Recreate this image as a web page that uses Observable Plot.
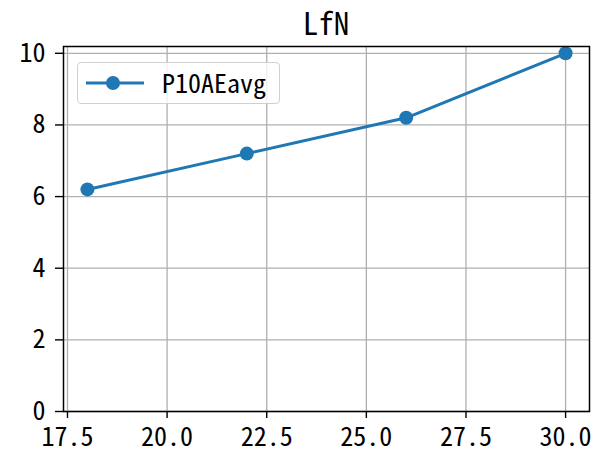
<!DOCTYPE html>
<html><head><meta charset="utf-8">
<script src="https://cdn.jsdelivr.net/npm/d3@7"></script>
<script src="https://cdn.jsdelivr.net/npm/@observablehq/plot@0.6"></script>
<style>
body{margin:0;background:#fff;}
#wrap{position:relative;width:607px;height:456px;font-family:"Noto Sans Mono CJK SC","Noto Sans CJK SC",monospace;}
#title{position:absolute;left:63px;width:526px;top:4px;height:36px;line-height:36px;text-align:center;font-size:31px;color:#000;}
#legend{position:absolute;left:77px;top:62px;width:201px;height:40px;border:1.3px solid #d0d0d0;border-radius:4px;background:rgba(255,255,255,0.8);}
#legend svg{position:absolute;left:0;top:0;}
#legend span{position:absolute;left:84px;top:50%;transform:translateY(-52%);font-size:26px;color:#000;line-height:1;}
</style></head><body><div id="wrap"></div>
<script>
const title = "LfN";
const seriesName = "P10AEavg";
const xs = [18, 22, 26, 30];
const ys = [6.2, 7.2, 8.2, 10];
const xTicks = [17.5, 20, 22.5, 25, 27.5, 30];
const yTicks = [0, 2, 4, 6, 8, 10];
const color = "#1f77b4";
const data = xs.map((x, i) => ({x, y: ys[i]}));

const font = '"Noto Sans Mono CJK SC","Noto Sans CJK SC",monospace';
const plot = Plot.plot({
  width: 607, height: 456,
  marginLeft: 63, marginRight: 18, marginTop: 46, marginBottom: 45,
  style: {fontFamily: font, fontSize: "26px", color: "#000", background: "#fff", overflow: "visible"},
  x: {domain: [17.4, 30.6]},
  y: {domain: [0, 10.19]},
  marks: [
    Plot.gridX(xTicks, {stroke: "#b0b0b0", strokeOpacity: 1, strokeWidth: 1.3}),
    Plot.gridY(yTicks, {stroke: "#b0b0b0", strokeOpacity: 1, strokeWidth: 1.3}),
    Plot.axisX({ticks: xTicks, tickFormat: d3.format(".1f"), tickSize: 7, tickPadding: 9, label: null, stroke: "#000", strokeWidth: 1.4}),
    Plot.axisY({ticks: yTicks, tickFormat: d3.format("d"), tickSize: 8, tickPadding: 10, label: null, stroke: "#000", strokeWidth: 1.4}),
    Plot.line(data, {x: "x", y: "y", stroke: color, strokeWidth: 3}),
    Plot.dot(data, {x: "x", y: "y", r: 7, fill: color, stroke: "none"}),
    Plot.frame({stroke: "#000", strokeWidth: 1.5})
  ]
});
const wrap = document.getElementById("wrap");
wrap.appendChild(plot);
const t = document.createElement("div");
t.id = "title";
t.textContent = title;
wrap.appendChild(t);
const leg = document.createElement("div");
leg.id = "legend";
leg.innerHTML = `<svg width="80" height="40"><line x1="8" x2="66" y1="20" y2="20" stroke="${color}" stroke-width="3"/><circle cx="35" cy="20" r="7" fill="${color}"/></svg><span>${seriesName}</span>`;
wrap.appendChild(leg);
</script></body></html>
